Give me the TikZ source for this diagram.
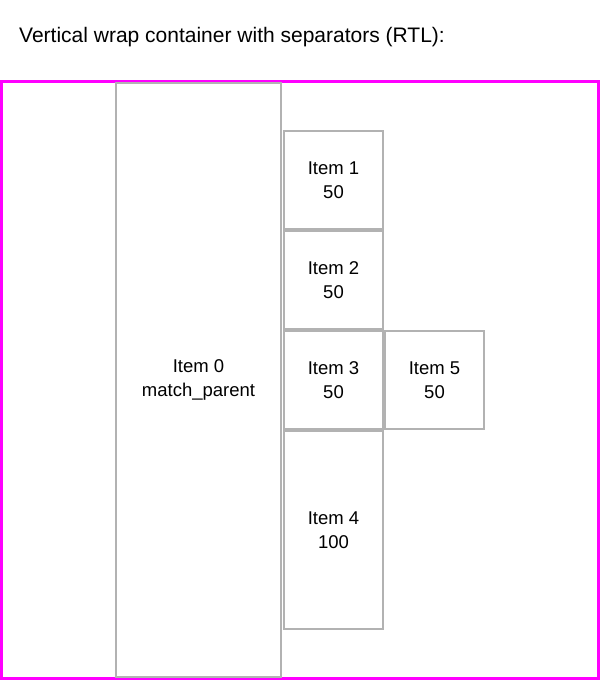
\documentclass[tikz,border=0pt]{standalone}
\usepackage{fontspec}
\setmainfont{Liberation Sans}
\usepackage{tikz}
\usetikzlibrary{positioning}
\definecolor{sepgray}{RGB}{178,178,178}
\definecolor{framepink}{RGB}{255,0,255}

\begin{document}
\begin{tikzpicture}[x=1pt,y=-1pt,
  item/.style={draw=sepgray, line width=2pt, align=center, inner sep=0pt,
    minimum width=99pt, minimum height=98pt,
    font=\fontsize{18.5}{24}\selectfont}]
  \useasboundingbox (0,0) rectangle (600,680);
  \node[anchor=base west, inner sep=0pt, font=\fontsize{21}{24}\selectfont]
    (title) at (19,42) {Vertical wrap container with separators (RTL):};
  \node[draw=framepink, line width=3pt, inner sep=0pt,
    minimum width=597pt, minimum height=597pt] (container) at (300,380) {};
  \node[item, minimum width=165pt, minimum height=594pt] (item0) at (198.5,380)
    {Item 0\\match\_parent};
  \node[item] (item1) at (333.5,180) {Item 1\\50};
  \node[item, below=0pt of item1] (item2) {Item 2\\50};
  \node[item, below=0pt of item2] (item3) {Item 3\\50};
  \node[item, below=0pt of item3, minimum height=198pt] (item4) {Item 4\\100};
  \node[item, right=0pt of item3] (item5) {Item 5\\50};
\end{tikzpicture}
\end{document}
